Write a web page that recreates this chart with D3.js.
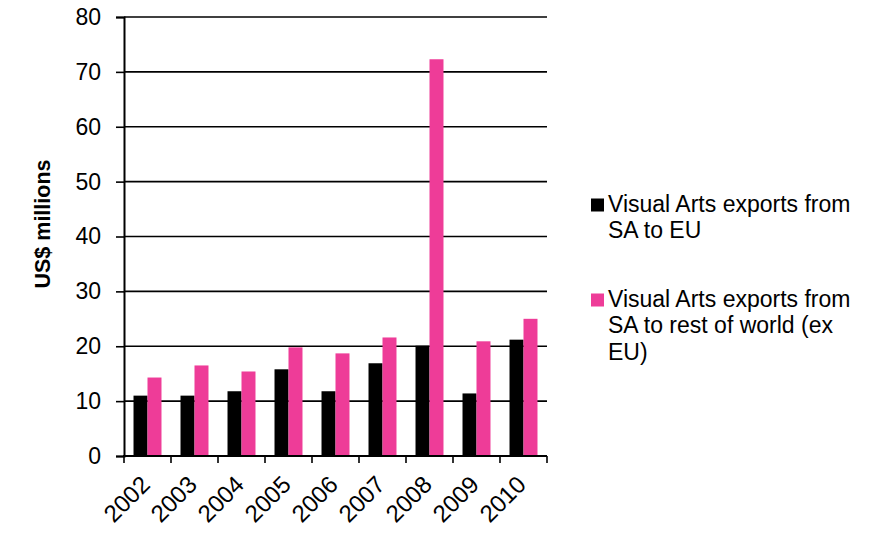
<!DOCTYPE html>
<html>
<head>
<meta charset="utf-8">
<script src="https://cdn.jsdelivr.net/npm/d3@7"></script>
<style>
  html, body { margin: 0; padding: 0; background: #fff; }
  svg { display: block; font-family: "Liberation Sans", Arial, sans-serif; }
</style>
</head>
<body>
<svg id="chart" width="877" height="542"></svg>
<script>
const years = ["2002","2003","2004","2005","2006","2007","2008","2009","2010"];
const euValues = [11.0, 11.0, 11.8, 15.8, 11.8, 16.9, 20.1, 11.4, 21.2];
const rowValues = [14.3, 16.5, 15.4, 19.8, 18.7, 21.6, 72.3, 20.9, 25.0];
const seriesNames = ["Visual Arts exports from SA to EU", "Visual Arts exports from SA to rest of world (ex EU)"];
const seriesColors = ["#000000", "#ee3c98"];
const yTicks = [0, 10, 20, 30, 40, 50, 60, 70, 80];
const legendLines = [["Visual Arts exports from", "SA to EU"], ["Visual Arts exports from", "SA to rest of world (ex", "EU)"]];

const svg = d3.select("#chart");
const mLeft = 124, mRight = 547, mTop = 17, mBottom = 456;

const x0 = d3.scaleBand().domain(years).range([mLeft, mRight]).padding(0);
const x1 = d3.scaleBand().domain([0, 1]).range([0, x0.bandwidth()]).paddingInner(0).paddingOuter(0.68);
const y = d3.scaleLinear().domain([0, 80]).range([mBottom, mTop]);

// gridlines
svg.append("g").selectAll("line").data(yTicks.filter(d => d > 0)).join("line")
  .attr("x1", mLeft).attr("x2", mRight)
  .attr("y1", d => y(d)).attr("y2", d => y(d))
  .attr("stroke", "#000").attr("stroke-width", 1.6);

// bars
const groups = svg.append("g").selectAll("g").data(years).join("g")
  .attr("transform", d => `translate(${x0(d)},0)`);
groups.selectAll("rect").data((d, i) => [euValues[i], rowValues[i]]).join("rect")
  .attr("x", (d, j) => x1(j))
  .attr("width", x1.bandwidth())
  .attr("y", d => y(d))
  .attr("height", d => y(0) - y(d))
  .attr("fill", (d, j) => seriesColors[j]);

// y axis
const yAxis = d3.axisLeft(y).tickValues(yTicks).tickSize(8).tickPadding(15).tickFormat(d3.format("d"));
const gy = svg.append("g").attr("transform", `translate(${mLeft},0)`).call(yAxis);
gy.select(".domain").attr("stroke", "#000").attr("stroke-width", 2);
gy.selectAll(".tick line").attr("stroke", "#000").attr("stroke-width", 1.6);
gy.selectAll(".tick text").attr("font-size", 23).attr("fill", "#000")
  .attr("font-family", "'Liberation Sans', Arial, sans-serif");

// x axis
const xTicksScale = d3.scaleLinear().domain([0, years.length]).range([mLeft, mRight]);
const gx = svg.append("g").attr("transform", `translate(0,${mBottom})`);
gx.append("line").attr("x1", mLeft - 1).attr("x2", mRight).attr("y1", 0).attr("y2", 0)
  .attr("stroke", "#000").attr("stroke-width", 2);
gx.selectAll("line.tk").data(d3.range(years.length + 1)).join("line").attr("class", "tk")
  .attr("x1", d => xTicksScale(d)).attr("x2", d => xTicksScale(d))
  .attr("y1", 0).attr("y2", 7).attr("stroke", "#000").attr("stroke-width", 1.6);
gx.selectAll("text").data(years).join("text")
  .attr("transform", d => `translate(${x0(d) + x0.bandwidth() / 2 + 4},${30}) rotate(-45)`)
  .attr("text-anchor", "end")
  .attr("font-size", 24).attr("fill", "#000")
  .text(d => d);

// y title
svg.append("text")
  .attr("transform", "translate(50,224) rotate(-90)")
  .attr("text-anchor", "middle")
  .attr("font-size", 21.5).attr("font-weight", "bold").attr("fill", "#000")
  .text("US$ millions");

// legend
const legendTop = [198.5, 293.5];
const lg = svg.append("g");
legendLines.forEach((lines, i) => {
  lg.append("rect").attr("x", 591).attr("y", legendTop[i]).attr("width", 13).attr("height", 13)
    .attr("fill", seriesColors[i]);
  const t = lg.append("text").attr("x", 608).attr("y", legendTop[i] + 13.2)
    .attr("font-size", 23).attr("fill", "#000");
  lines.forEach((ln, k) => {
    t.append("tspan").attr("x", 608).attr("dy", k === 0 ? 0 : 26.7).text(ln);
  });
});
</script>
</body>
</html>
